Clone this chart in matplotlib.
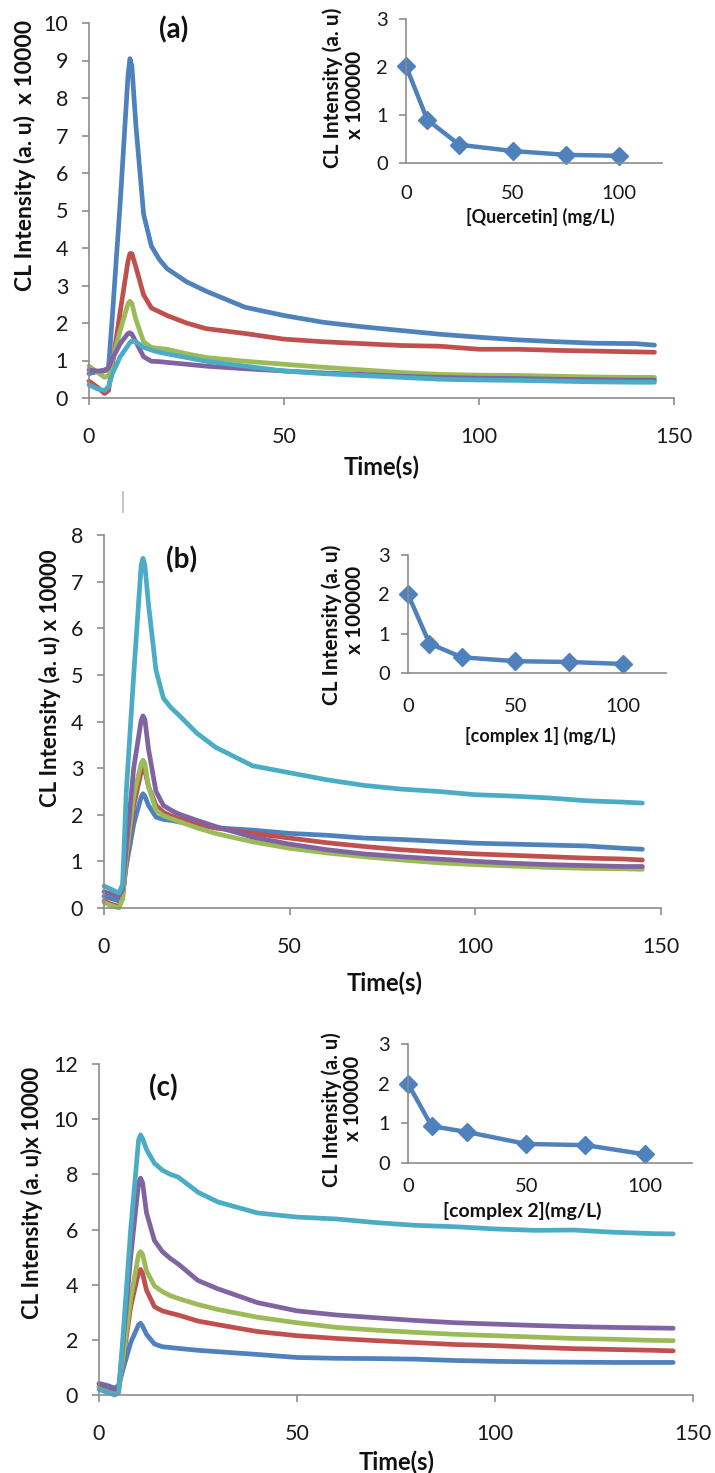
import numpy as np
import matplotlib
matplotlib.use("Agg")
import matplotlib.pyplot as plt
from matplotlib.lines import Line2D

plt.rcParams['font.family'] = ['Lato', 'DejaVu Sans']

W, H = 715, 1473

# ---------------------------------------------------------------- data
time_s = [0, 2, 4, 5, 6, 8, 10, 10.5, 11, 12, 14, 16, 18, 20, 25, 30, 40, 50,
          60, 70, 80, 90, 100, 110, 120, 130, 140, 145]

# panel (a) quercetin
a_blue = [0.65, 0.7, 0.75, 0.8, 2.2, 5.2, 8.6, 9.05, 8.85, 7.3, 4.9, 4.05, 3.7, 3.45,
          3.1, 2.85, 2.42, 2.2, 2.02, 1.9, 1.8, 1.7, 1.62, 1.55, 1.5, 1.46, 1.45, 1.41]
a_red = [0.45, 0.3, 0.12, 0.2, 0.9, 2.3, 3.65, 3.85, 3.85, 3.5, 2.75, 2.4, 2.3, 2.2,
         2.0, 1.85, 1.72, 1.57, 1.5, 1.45, 1.4, 1.38, 1.3, 1.3, 1.27, 1.25, 1.23, 1.22]
a_green = [0.85, 0.7, 0.55, 0.6, 1.0, 1.8, 2.52, 2.58, 2.52, 2.1, 1.5, 1.35, 1.32, 1.3,
           1.18, 1.08, 0.98, 0.9, 0.82, 0.75, 0.68, 0.63, 0.61, 0.6, 0.58, 0.56, 0.55, 0.55]
a_purple = [0.75, 0.72, 0.72, 0.8, 1.05, 1.45, 1.72, 1.74, 1.7, 1.5, 1.1, 0.98, 0.97, 0.95,
            0.9, 0.85, 0.78, 0.72, 0.67, 0.63, 0.58, 0.55, 0.53, 0.52, 0.5, 0.49, 0.48, 0.48]
a_cyan = [0.35, 0.25, 0.2, 0.3, 0.65, 1.1, 1.4, 1.48, 1.52, 1.5, 1.35, 1.28, 1.22, 1.18,
          1.08, 0.98, 0.85, 0.72, 0.65, 0.6, 0.55, 0.5, 0.48, 0.47, 0.45, 0.43, 0.42, 0.42]

# panel (b) complex 1
b_blue = [0.25, 0.2, 0.15, 0.3, 0.9, 1.8, 2.38, 2.45, 2.4, 2.2, 1.95, 1.9, 1.88, 1.85,
          1.78, 1.72, 1.67, 1.6, 1.56, 1.5, 1.47, 1.43, 1.39, 1.37, 1.35, 1.33, 1.28, 1.26]
b_red = [0.15, 0.08, 0.03, 0.2, 1.0, 2.2, 2.92, 3.0, 2.95, 2.6, 2.2, 2.05, 1.98, 1.92,
         1.82, 1.72, 1.6, 1.5, 1.4, 1.32, 1.25, 1.2, 1.16, 1.13, 1.1, 1.07, 1.05, 1.03]
b_green = [0.12, 0.05, 0.0, 0.2, 1.1, 2.4, 3.1, 3.17, 3.1, 2.6, 2.1, 1.98, 1.92, 1.86,
           1.72, 1.6, 1.42, 1.28, 1.18, 1.1, 1.03, 0.97, 0.93, 0.9, 0.87, 0.85, 0.84, 0.83]
b_purple = [0.35, 0.3, 0.25, 0.4, 1.3, 3.0, 4.02, 4.12, 4.05, 3.4, 2.5, 2.2, 2.1, 2.02,
            1.88, 1.75, 1.52, 1.37, 1.25, 1.16, 1.1, 1.05, 1.0, 0.96, 0.93, 0.91, 0.89, 0.89]
b_cyan = [0.47, 0.4, 0.32, 0.5, 2.5, 5.0, 7.35, 7.5, 7.35, 6.5, 5.1, 4.5, 4.3, 4.15,
          3.75, 3.45, 3.05, 2.9, 2.75, 2.63, 2.55, 2.5, 2.43, 2.4, 2.36, 2.3, 2.27, 2.25]

# panel (c) complex 2
c_blue = [0.42, 0.35, 0.25, 0.35, 0.9, 1.9, 2.55, 2.6, 2.5, 2.2, 1.85, 1.75, 1.72, 1.69,
          1.62, 1.57, 1.47, 1.36, 1.33, 1.32, 1.3, 1.25, 1.22, 1.2, 1.19, 1.18, 1.18, 1.18]
c_red = [0.3, 0.2, 0.1, 0.25, 1.2, 3.2, 4.45, 4.55, 4.4, 3.8, 3.2, 3.05, 2.97, 2.9,
         2.68, 2.55, 2.3, 2.15, 2.05, 1.97, 1.9, 1.83, 1.79, 1.73, 1.68, 1.65, 1.62, 1.6]
c_green = [0.3, 0.2, 0.1, 0.25, 1.3, 3.5, 5.1, 5.2, 5.1, 4.5, 3.95, 3.75, 3.6, 3.5,
           3.28, 3.1, 2.82, 2.62, 2.45, 2.35, 2.27, 2.2, 2.15, 2.1, 2.05, 2.02, 1.98, 1.97]
c_purple = [0.4, 0.3, 0.2, 0.3, 1.8, 5.0, 7.7, 7.86, 7.7, 6.6, 5.6, 5.2, 4.95, 4.75,
            4.15, 3.85, 3.35, 3.05, 2.9, 2.8, 2.7, 2.62, 2.57, 2.52, 2.48, 2.45, 2.43, 2.42]
c_cyan = [0.2, 0.1, 0.0, 0.1, 2.0, 6.0, 9.25, 9.43, 9.3, 8.9, 8.4, 8.15, 8.0, 7.9,
          7.35, 7.0, 6.6, 6.45, 6.38, 6.25, 6.15, 6.1, 6.02, 5.97, 5.98, 5.9, 5.85, 5.84]

# insets: CL intensity x 100000 against concentration
conc = [0, 10, 25, 50, 75, 100]
inset_quercetin = [2.02, 0.9, 0.38, 0.25, 0.17, 0.15]
inset_complex1 = [2.0, 0.75, 0.4, 0.3, 0.28, 0.23]
inset_complex2 = [2.0, 0.93, 0.78, 0.48, 0.45, 0.22]

colors = ['#4F81BD', '#C0504D', '#9BBB59', '#8064A2', '#4BACC6']
GRAY = '#8c8c8c'


def box(x0, y0, x1, y1):
    return [x0 / W, 1 - y1 / H, (x1 - x0) / W, (y1 - y0) / H]


def ptext(x, y, s, size, rot=0, bold=True):
    fig.text(x / W, 1 - y / H, s, ha='center', va='center', rotation=rot,
             fontsize=size, fontweight='bold' if bold else 'normal', color='#111111')


def style(ax, size, xpad, ypad):
    for side in ('top', 'right'):
        ax.spines[side].set_visible(False)
    for side in ('left', 'bottom'):
        ax.spines[side].set_color(GRAY)
        ax.spines[side].set_linewidth(1.2)
    ax.tick_params(colors=GRAY, labelcolor='#1a1a1a', labelsize=size,
                   direction='out', length=5, width=1.2)
    ax.tick_params(axis='x', pad=xpad)
    ax.tick_params(axis='y', pad=ypad)
    ax.patch.set_alpha(0)


def main_panel(rect, series, ymax, ystep):
    ax = fig.add_axes(rect)
    for ys, c in zip(series, colors):
        ax.plot(time_s, ys, color=c, lw=3.4, solid_capstyle='round',
                solid_joinstyle='round', clip_on=False)
    ax.set_xlim(0, 150)
    ax.set_ylim(0, ymax)
    ax.set_xticks([0, 50, 100, 150])
    ax.set_yticks(np.arange(0, ymax + 0.1, ystep))
    style(ax, 15.5, 16, 10)
    return ax


def inset_panel(rect, vals, xpad):
    ax = fig.add_axes(rect)
    ax.plot(conc, vals, color=colors[0], lw=3.2, marker='D', ms=9,
            solid_joinstyle='round', clip_on=False)
    ax.set_xlim(0, 120)
    ax.set_ylim(0, 3)
    ax.set_xticks([0, 50, 100])
    ax.set_yticks([0, 1, 2, 3])
    style(ax, 14.5, xpad, 8)
    ax.tick_params(axis='x', length=0)
    return ax


fig = plt.figure(figsize=(W / 100, H / 100), dpi=100)

# ---------------------------------------------------------------- (a)
main_panel(box(89, 23, 674, 398), [a_blue, a_red, a_green, a_purple, a_cyan], 10, 1)
inset_panel(box(406, 19, 662, 163), inset_quercetin, 16)
ptext(25, 155, 'CL Intensity (a. u)  x 10000', 16.5, rot=90)
ptext(174, 30, '(a)', 20)
ptext(382, 467, 'Time(s)', 17)
ptext(333, 88, 'CL Intensity (a. u)', 15, rot=90)
ptext(355, 95, 'x 100000', 15, rot=90)
ptext(540, 217, '[Quercetin] (mg/L)', 13)

# ---------------------------------------------------------------- (b)
main_panel(box(104, 535, 661, 908), [b_blue, b_red, b_green, b_purple, b_cyan], 8, 1)
inset_panel(box(408, 555, 666, 673), inset_complex1, 18)
ptext(50, 678, 'CL Intensity (a. u) x 10000', 16, rot=90)
ptext(182, 560, '(b)', 20)
ptext(385, 983, 'Time(s)', 17)
ptext(332, 625, 'CL Intensity (a. u)', 15, rot=90)
ptext(355, 610, 'x 100000', 15, rot=90)
ptext(540, 736, '[complex 1] (mg/L)', 13)
fig.add_artist(Line2D([123 / W, 123 / W], [1 - 492 / H, 1 - 512 / H], color='#bbbbbb', lw=1.2))

# ---------------------------------------------------------------- (c)
main_panel(box(99, 1064, 693, 1395), [c_blue, c_red, c_green, c_purple, c_cyan], 12, 2)
inset_panel(box(408, 1044, 692, 1163), inset_complex2, 11)
ptext(32, 1193, 'CL Intensity (a. u)x 10000', 16, rot=90)
ptext(163, 1088, '(c)', 20)
ptext(397, 1462, 'Time(s)', 17)
ptext(332, 1110, 'CL Intensity (a. u)', 14.5, rot=90)
ptext(353, 1098, 'x 100000', 14.5, rot=90)
ptext(522, 1211, '[complex 2](mg/L)', 14)

fig.savefig('out.png', dpi=100)
